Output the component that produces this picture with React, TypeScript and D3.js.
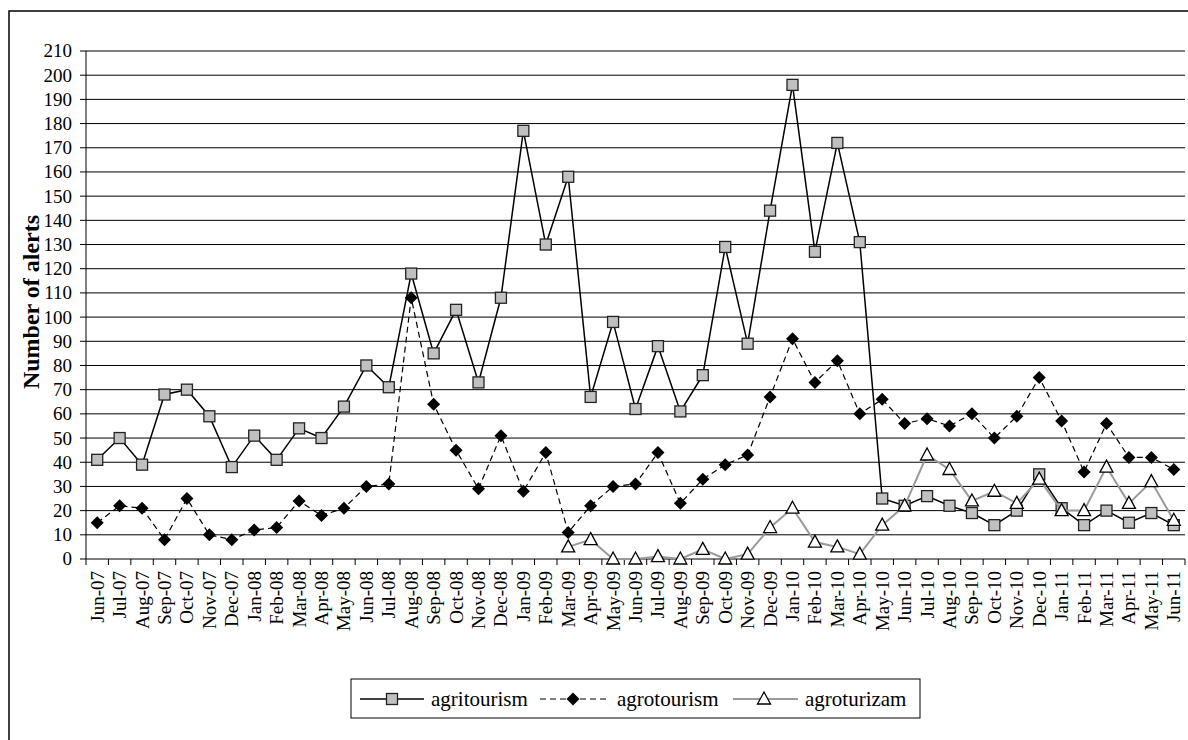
import React from "react";
import * as d3 from "d3";

const months: string[] = [
  "Jun-07","Jul-07","Aug-07","Sep-07","Oct-07","Nov-07","Dec-07","Jan-08","Feb-08","Mar-08","Apr-08","May-08",
  "Jun-08","Jul-08","Aug-08","Sep-08","Oct-08","Nov-08","Dec-08","Jan-09","Feb-09","Mar-09","Apr-09","May-09",
  "Jun-09","Jul-09","Aug-09","Sep-09","Oct-09","Nov-09","Dec-09","Jan-10","Feb-10","Mar-10","Apr-10","May-10",
  "Jun-10","Jul-10","Aug-10","Sep-10","Oct-10","Nov-10","Dec-10","Jan-11","Feb-11","Mar-11","Apr-11","May-11","Jun-11",
];

const agritourism: number[] = [
  41, 50, 39, 68, 70, 59, 38, 51, 41, 54, 50, 63,
  80, 71, 118, 85, 103, 73, 108, 177, 130, 158, 67, 98,
  62, 88, 61, 76, 129, 89, 144, 196, 127, 172, 131, 25,
  22, 26, 22, 19, 14, 20, 35, 21, 14, 20, 15, 19, 14,
];

const agrotourism: number[] = [
  15, 22, 21, 8, 25, 10, 8, 12, 13, 24, 18, 21,
  30, 31, 108, 64, 45, 29, 51, 28, 44, 11, 22, 30,
  31, 44, 23, 33, 39, 43, 67, 91, 73, 82, 60, 66,
  56, 58, 55, 60, 50, 59, 75, 57, 36, 56, 42, 42, 37,
];

// agroturizam starts at Mar-09
const agroturizam: (number | null)[] = [
  null, null, null, null, null, null, null, null, null, null, null, null,
  null, null, null, null, null, null, null, null, null, 5, 8, 0,
  0, 1, 0, 4, 0, 2, 13, 21, 7, 5, 2, 14,
  22, 43, 37, 24, 28, 23, 33, 20, 20, 38, 23, 32, 16,
];

const yTicks: number[] = d3.range(0, 211, 10);
const seriesNames: string[] = ["agritourism", "agrotourism", "agroturizam"];

const W = 1188, H = 740;
const left = 86, right = 1185, top = 51, bottom = 559;

const FONT = "Liberation Serif";

export default function App() {
  const x = d3.scaleBand<string>().domain(months).range([left, right]).padding(0);
  const y = d3.scaleLinear().domain([0, 210]).range([bottom, top]);
  const cx = (m: string) => (x(m) as number) + x.bandwidth() / 2;

  const line = d3
    .line<[string, number | null]>()
    .defined((d) => d[1] !== null)
    .x((d) => cx(d[0]))
    .y((d) => y(d[1] as number));

  const z = (arr: (number | null)[]) => months.map((m, i) => [m, arr[i]] as [string, number | null]);

  const ts = { fontFamily: FONT };

  const square = (px: number, py: number, k: string) => (
    <rect key={k} x={px - 5.5} y={py - 5.5} width={11} height={11} fill="#c0c0c0" stroke="#222" strokeWidth={1.3} />
  );
  const diamond = (px: number, py: number, k: string) => (
    <path key={k} d={`M${px},${py - 6.5}L${px + 6.5},${py}L${px},${py + 6.5}L${px - 6.5},${py}Z`} fill="#000" />
  );
  const triangle = (px: number, py: number, k: string) => (
    <path key={k} d={`M${px},${py - 7}L${px + 6.5},${py + 5}L${px - 6.5},${py + 5}Z`} fill="#fff" stroke="#000" strokeWidth={1.3} />
  );

  const legY = 699;

  return (
    <svg width={W} height={H} style={{ position: "absolute", left: 0, top: 0, fontFamily: FONT }}>
      <rect x={0} y={0} width={W} height={H} fill="#fff" />
      {/* outer chart border */}
      <rect x={9} y={11} width={1300} height={900} fill="none" stroke="#000" strokeWidth={1.5} />

      {/* gridlines */}
      {yTicks.filter((t) => t > 0).map((t) => (
        <line key={"g" + t} x1={left} x2={right} y1={y(t)} y2={y(t)} stroke="#000" strokeWidth={1} />
      ))}
      {/* axes */}
      <line x1={left} x2={left} y1={top} y2={bottom} stroke="#000" strokeWidth={1} />
      <line x1={left} x2={right} y1={bottom} y2={bottom} stroke="#000" strokeWidth={1} />
      {yTicks.map((t) => (
        <g key={"yt" + t}>
          <line x1={left - 6} x2={left} y1={y(t)} y2={y(t)} stroke="#000" />
          <text x={72} y={y(t)} dy="0.34em" textAnchor="end" fontSize={19} style={ts}>{t}</text>
        </g>
      ))}
      {months.map((m, i) => (
        <line key={"xt" + i} x1={x(m) as number} x2={x(m) as number} y1={bottom} y2={bottom + 6} stroke="#000" />
      ))}
      <line x1={right} x2={right} y1={bottom} y2={bottom + 6} stroke="#000" />
      {months.map((m, i) => (
        <text key={"xl" + i} transform={`translate(${cx(m)},${571}) rotate(-90)`} dy="0.34em" textAnchor="end" fontSize={19} style={ts}>{m}</text>
      ))}

      <text transform={`translate(39,302) rotate(-90)`} textAnchor="middle" fontSize={24} fontWeight="bold" style={ts}>Number of alerts</text>

      {/* series */}
      <path d={line(z(agritourism)) as string} fill="none" stroke="#000" strokeWidth={1.5} />
      {agritourism.map((v, i) => square(cx(months[i]), y(v), "s" + i))}

      <path d={line(z(agrotourism)) as string} fill="none" stroke="#000" strokeWidth={1.2} strokeDasharray="6,4" />
      {agrotourism.map((v, i) => diamond(cx(months[i]), y(v), "d" + i))}

      <path d={line(z(agroturizam)) as string} fill="none" stroke="#9a9a9a" strokeWidth={2} />
      {agroturizam.map((v, i) => (v === null ? null : triangle(cx(months[i]), y(v), "t" + i)))}

      {/* legend */}
      <rect x={351} y={679} width={569} height={39} fill="#fff" stroke="#000" strokeWidth={1} />
      <line x1={360} x2={424} y1={legY} y2={legY} stroke="#000" strokeWidth={1.5} />
      {square(392, legY, "ls")}
      <text x={431} y={legY} dy="0.34em" fontSize={21} style={ts}>{seriesNames[0]}</text>

      <line x1={540} x2={608} y1={legY} y2={legY} stroke="#000" strokeWidth={1.2} strokeDasharray="6,4" />
      {diamond(573, legY, "ld")}
      <text x={617} y={legY} dy="0.34em" fontSize={21} style={ts}>{seriesNames[1]}</text>

      <line x1={733} x2={798} y1={legY} y2={legY} stroke="#9a9a9a" strokeWidth={2} />
      {triangle(764, legY, "lt")}
      <text x={805} y={legY} dy="0.34em" fontSize={21} style={ts}>{seriesNames[2]}</text>
    </svg>
  );
}
